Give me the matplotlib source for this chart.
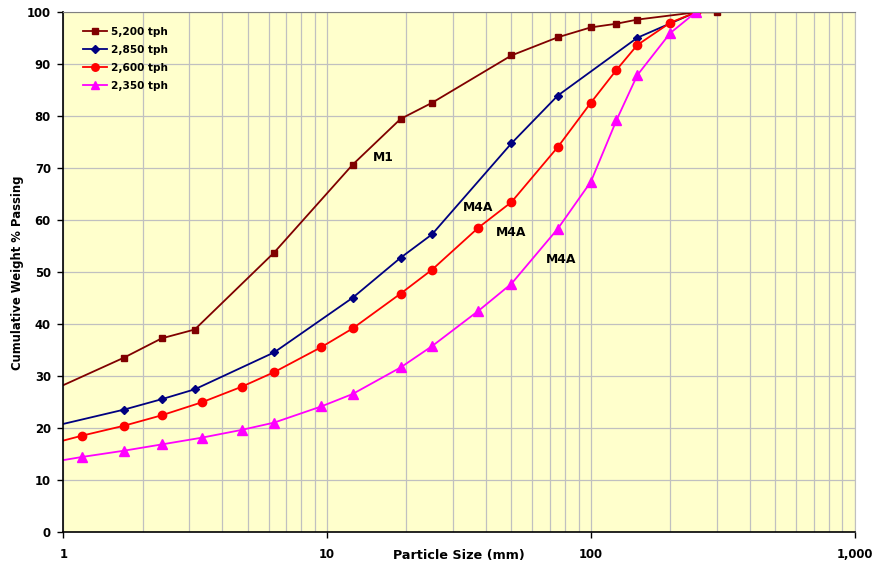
import matplotlib
matplotlib.use("Agg")
import matplotlib.pyplot as plt
from matplotlib.ticker import FixedLocator, LogLocator, NullFormatter, FuncFormatter

plt.rcParams['font.family'] = ['DejaVu Sans']
plt.rcParams['font.weight'] = 'bold'

# Screen size distributions (particle size in mm, cumulative % passing)
size_5200 = [0.6, 1.7, 2.36, 3.15, 6.3, 12.5, 19.0, 25.0, 50.0, 75.0, 100.0, 125.0, 150.0, 250.0, 300.0]
pass_5200 = [23.2, 33.6, 37.3, 39.0, 53.8, 70.7, 79.5, 82.6, 91.7, 95.2, 97.1, 97.8, 98.6, 100.0, 100.0]

size_2850 = [0.6, 1.7, 2.36, 3.15, 6.3, 12.5, 19.0, 25.0, 50.0, 75.0, 150.0, 250.0]
pass_2850 = [18.2, 23.6, 25.6, 27.5, 34.6, 45.1, 52.8, 57.3, 74.8, 84.0, 95.1, 100.0]

size_2600 = [0.6, 1.18, 1.7, 2.36, 3.35, 4.75, 6.3, 9.5, 12.5, 19.0, 25.0, 37.5, 50.0, 75.0, 100.0, 125.0, 150.0, 200.0, 250.0]
pass_2600 = [14.7, 18.6, 20.5, 22.5, 25.0, 28.0, 30.8, 35.6, 39.2, 45.9, 50.5, 58.6, 63.5, 74.1, 82.6, 88.9, 93.7, 98.0, 100.0]

size_2350 = [0.6, 1.18, 1.7, 2.36, 3.35, 4.75, 6.3, 9.5, 12.5, 19.0, 25.0, 37.5, 50.0, 75.0, 100.0, 125.0, 150.0, 200.0, 250.0]
pass_2350 = [12.0, 14.5, 15.7, 16.9, 18.2, 19.7, 21.1, 24.2, 26.6, 31.7, 35.8, 42.6, 47.8, 58.4, 67.4, 79.2, 87.9, 96.0, 100.0]

series = [
    ("5,200 tph", size_5200, pass_5200, "#800000", "s", 5.0),
    ("2,850 tph", size_2850, pass_2850, "#000080", "D", 4.5),
    ("2,600 tph", size_2600, pass_2600, "#FF0000", "o", 6.0),
    ("2,350 tph", size_2350, pass_2350, "#FF00FF", "^", 6.5),
]

# Curve annotations: (text, x in mm, y in %)
annotations = [
    ("M1", 16.3, 72.1),
    ("M4A", 37.3, 62.5),
    ("M4A", 49.9, 57.7),
    ("M4A", 76.9, 52.5),
]

x_ticks = [1, 10, 100, 1000]
y_ticks = list(range(0, 101, 10))

fig = plt.figure(figsize=(8.72, 5.62), dpi=100)
ax = fig.add_axes([0.0726, 0.0528, 0.9074, 0.9253])
ax.set_facecolor("#FFFFCC")

for label, xs, ys, color, marker, ms in series:
    ax.plot(xs, ys, color=color, marker=marker, markersize=ms, linewidth=1.3,
            markeredgecolor=color, label=label, clip_on=True)

ax.set_xscale("log")
ax.set_xlim(1, 1000)
ax.set_ylim(0, 100)

ax.xaxis.set_major_locator(FixedLocator(x_ticks))
ax.xaxis.set_minor_locator(LogLocator(base=10, subs=range(2, 10)))
ax.xaxis.set_minor_formatter(NullFormatter())
ax.xaxis.set_major_formatter(FuncFormatter(lambda v, p: f"{int(round(v)):,}"))
ax.set_yticks(y_ticks)

ax.grid(True, which="both", axis="x", color="#C0C0C0", linewidth=0.9)
ax.grid(True, which="major", axis="y", color="#C0C0C0", linewidth=0.9)
ax.set_axisbelow(True)

ax.tick_params(axis="both", which="major", direction="out", length=4.5, width=1,
               labelsize=8.4, pad=4.5)
ax.tick_params(axis="x", which="major", pad=7)
ax.tick_params(axis="x", which="minor", length=0)
for lab in ax.get_xticklabels() + ax.get_yticklabels():
    lab.set_fontweight("bold")

ax.spines["left"].set_color("black")
ax.spines["bottom"].set_color("black")
ax.spines["left"].set_linewidth(1.2)
ax.spines["bottom"].set_linewidth(1.2)
ax.spines["top"].set_color("#808080")
ax.spines["right"].set_color("#C0C0C0")

ax.set_xlabel("Particle Size (mm)", fontsize=9.2, fontweight="bold")
ax.set_ylabel("Cumulative Weight % Passing", fontsize=8.4, fontweight="bold")
ax.xaxis.set_label_coords(0.5, -0.033)
ax.yaxis.set_label_coords(-0.05, 0.5)

for text, xv, yv in annotations:
    ax.text(xv, yv, text, fontsize=8.9, fontweight="bold", ha="center", va="center")

leg = ax.legend(loc="upper left", bbox_to_anchor=(0.022, 0.976), frameon=False,
                prop={"size": 7.6, "weight": "bold"}, handlelength=2.3,
                handletextpad=0.35, labelspacing=0.75, borderaxespad=0.0,
                borderpad=0.2, markerscale=0.9)

fig.savefig("out.png", dpi=100)
